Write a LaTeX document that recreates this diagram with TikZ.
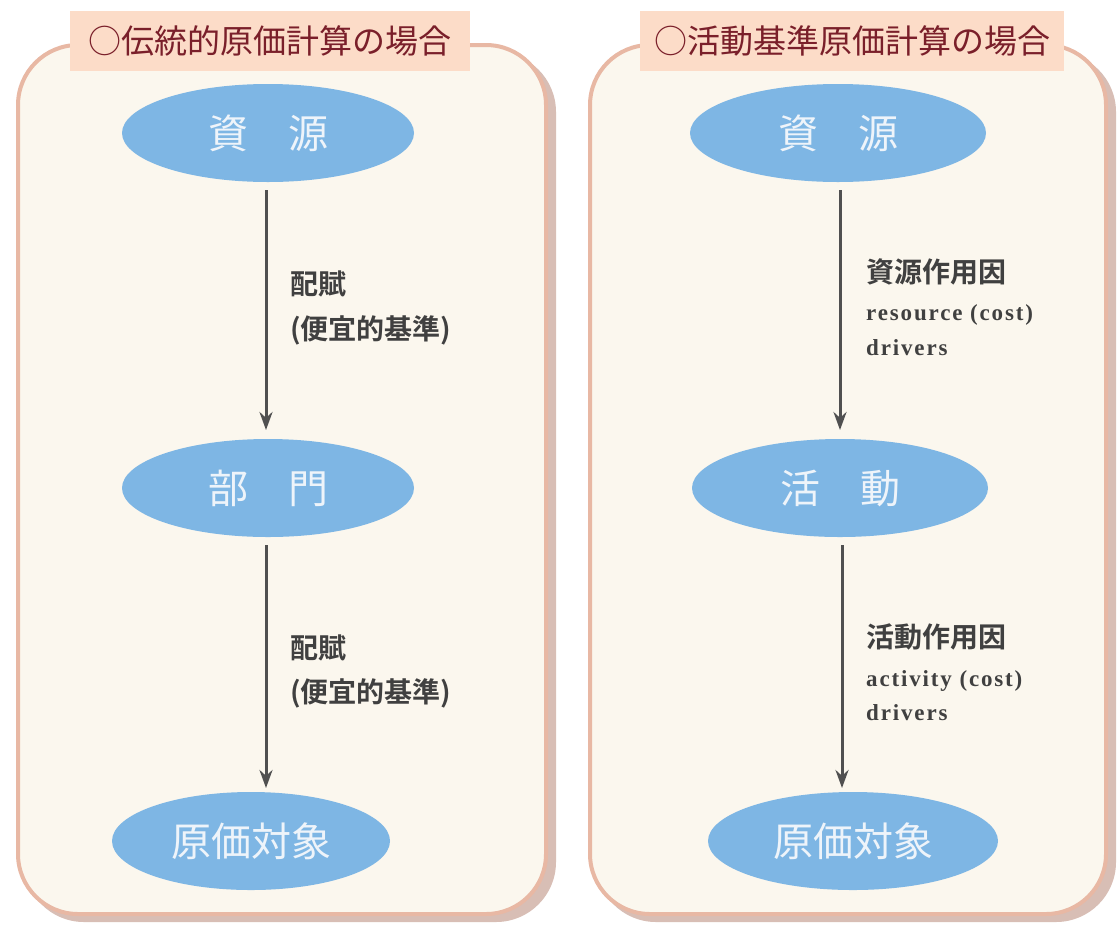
\documentclass[tikz,border=0pt]{standalone}
\usepackage{fontspec}
\setmainfont{Liberation Serif}
\newfontfamily\cjk{Noto Sans CJK JP}
\newfontfamily\cjkb[BoldFont={* Bold}]{Noto Sans CJK JP}
\newfontfamily\engl[LetterSpace=8]{Liberation Serif}
\usetikzlibrary{shapes.geometric,arrows.meta}
\definecolor{panelfill}{HTML}{FBF7EE}
\definecolor{panelrim}{HTML}{E8B8A4}
\definecolor{panelshadow}{HTML}{B88878}
\definecolor{titlefill}{HTML}{FCDCC8}
\definecolor{titletext}{HTML}{7A1F2A}
\definecolor{ellfill}{HTML}{7EB6E4}
\definecolor{elltext}{HTML}{EEF4FA}
\definecolor{arrowcol}{HTML}{505050}
\definecolor{labelcol}{HTML}{404040}
\begin{document}
\begin{tikzpicture}[x=1pt,y=-1pt,
  panel/.style={rounded corners=60pt,fill=panelfill,draw=panelrim,line width=4pt},
  shadowbox/.style={rounded corners=60pt,fill=panelshadow,opacity=0.55},
  titlebox/.style={fill=titlefill,inner sep=0pt,minimum height=60pt,font=\cjk\fontsize{33}{36}\selectfont,text=titletext},
  ellnode/.style={ellipse,fill=ellfill,inner sep=0pt,minimum width=292pt,minimum height=98pt,font=\cjk\fontsize{40}{44}\selectfont,text=elltext},
  flow/.style={draw=arrowcol,line width=3pt,-{Stealth[length=18pt,width=13pt]}},
  jlabel/.style={anchor=west,inner sep=0pt,font=\cjkb\bfseries\fontsize{28}{30}\selectfont,text=labelcol},
  elabel/.style={anchor=west,inner sep=0pt,font=\engl\bfseries\fontsize{23}{25}\selectfont,text=labelcol}]
\useasboundingbox (0,0) rectangle (1118,927);
% panels
\fill[shadowbox] (24,52) rectangle (556,922);
\draw[panel] (18,45) rectangle (546,914);
\fill[shadowbox] (596,52) rectangle (1116,922);
\draw[panel] (590,45) rectangle (1106,914);
% titles
\node[titlebox,minimum width=400pt] (t1) at (270,41) {○伝統的原価計算の場合};
\node[titlebox,minimum width=424pt] (t2) at (852,41) {○活動基準原価計算の場合};
% left
\node[ellnode] (l1) at (268,133) {資　源};
\node[ellnode] (l2) at (268,488) {部　門};
\node[ellnode,minimum width=278pt] (l3) at (251,841) {原価対象};
\draw[flow] (l1.south) ++(-2,8) coordinate (la) -- (la |- 0,430) coordinate (lb);
\draw[flow] (l2.south) ++(-2,8) coordinate (lc) -- (lc |- 0,788) coordinate (ld);
\node[jlabel] (lt1) at (290,284) {配賦};
\node[jlabel] (lt2) at (290,330) {(便宜的基準)};
\node[jlabel] (lt3) at (290,648) {配賦};
\node[jlabel] (lt4) at (290,693) {(便宜的基準)};
% right
\node[ellnode,minimum width=296pt] (r1) at (838,133) {資　源};
\node[ellnode,minimum width=296pt] (r2) at (840,488) {活　動};
\node[ellnode,minimum width=290pt] (r3) at (853,841) {原価対象};
\draw[flow] (r1.south) ++(2,8) coordinate (ra) -- (ra |- 0,430) coordinate (rb);
\draw[flow] (r2.south) ++(2,8) coordinate (rc) -- (rc |- 0,788) coordinate (rd);
\node[jlabel] (rt1) at (866,272) {資源作用因};
\node[elabel] (rt2) at (866,315) {resource (cost)};
\node[elabel] (rt3) at (866,348) {drivers};
\node[jlabel] (rt4) at (866,637) {活動作用因};
\node[elabel] (rt5) at (866,681) {activity (cost)};
\node[elabel] (rt6) at (866,713) {drivers};
\end{tikzpicture}
\end{document}
